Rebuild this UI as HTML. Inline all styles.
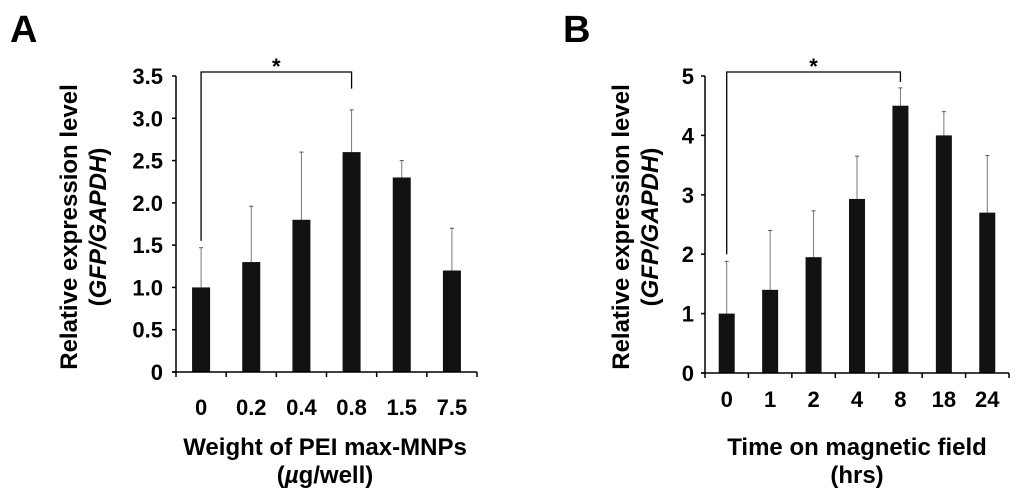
<!DOCTYPE html>
<html><head><meta charset="utf-8"><style>
body{margin:0;background:#fff}
svg{display:block;font-family:"Liberation Sans",Arial,sans-serif;font-weight:bold}
</style></head><body>
<svg id="fig" width="1024" height="498" viewBox="0 0 1024 498" xmlns="http://www.w3.org/2000/svg"></svg>
<script>
const catsA = ["0","0.2","0.4","0.8","1.5","7.5"];
const valsA = [1.0,1.3,1.8,2.6,2.3,1.2];
const errA = [1.47,1.96,2.6,3.1,2.5,1.7];
const ticksA = ["0","0.5","1.0","1.5","2.0","2.5","3.0","3.5"];
const tickValsA = [0,0.5,1,1.5,2,2.5,3,3.5];
const catsB = ["0","1","2","4","8","18","24"];
const valsB = [1.0,1.4,1.95,2.93,4.5,4.0,2.7];
const errB = [1.88,2.4,2.73,3.65,4.8,4.4,3.66];
const ticksB = ["0","1","2","3","4","5"];
const tickValsB = [0,1,2,3,4,5];

const NS="http://www.w3.org/2000/svg";
const svg=document.getElementById('fig');
function mk(tag,attrs,parent,text){const e=document.createElementNS(NS,tag);for(const k in attrs)e.setAttribute(k,attrs[k]);if(text!==undefined)e.textContent=text;(parent||svg).appendChild(e);return e;}

function panel(cfg){
  const g=mk('g',{});
  
  
  const y=v=>cfg.y0-(v/cfg.ymax)*(cfg.y0-cfg.ytop);
  const cw=(cfg.x1-cfg.x0)/cfg.cats.length;
  const cx=i=>cfg.x0+cw*(i+0.5);
  const lab=mk('text',{x:cfg.labX,y:42,'font-size':38},g,cfg.id);
  
  
  cfg.vals.forEach((v,i)=>{
    const eb=mk('line',{x1:cx(i),x2:cx(i),y1:y(v),y2:y(cfg.err[i]),stroke:'#777','stroke-width':1},g);
    
    
    const cap=mk('line',{x1:cx(i)-2,x2:cx(i)+2,y1:y(cfg.err[i]),y2:y(cfg.err[i]),stroke:'#555','stroke-width':1},g);
    
    
    const b=mk('rect',{x:cx(i)-cfg.bw/2,y:y(v),width:cfg.bw,height:cfg.y0-y(v),fill:'#111'},g);
    
    
    const t=mk('text',{x:cx(i),y:cfg.xlabY,'text-anchor':'middle','font-size':22},g,cfg.cats[i]);
    
    
  });
  const ya=mk('line',{x1:cfg.x0,x2:cfg.x0,y1:cfg.ytop,y2:cfg.y0,stroke:'#000','stroke-width':1.5},g);
  
  
  const xa=mk('line',{x1:cfg.x0-4,x2:cfg.x1,y1:cfg.y0,y2:cfg.y0,stroke:'#000','stroke-width':1.5},g);
  
  
  for(let i=0;i<=cfg.cats.length;i++){
    mk('line',{x1:cfg.x0+cw*i,x2:cfg.x0+cw*i,y1:cfg.y0,y2:cfg.y0+5,stroke:'#000','stroke-width':1.5},g);
  }
  cfg.tickVals.forEach((v,i)=>{
    mk('line',{x1:cfg.x0-4,x2:cfg.x0,y1:y(v),y2:y(v),stroke:'#000','stroke-width':1.5},g);
    const t=mk('text',{x:cfg.tickX,y:y(v)+8,'text-anchor':'end','font-size':22},g,cfg.ticks[i]);
    
    
  });
  const L=cx(0),R=cx(cfg.sigIdx);
  const br=mk('polyline',{points:`${L},${y(cfg.brLeft)} ${L},72 ${R},72 ${R},${y(cfg.brRight)}`,fill:'none',stroke:'#000','stroke-width':1.3},g);
  
  
  const st=mk('text',{x:(L+R)/2,y:74,'text-anchor':'middle','font-size':22},g,'*');
  
  
  const xt=mk('text',{x:cfg.xtX,y:455,'text-anchor':'middle','font-size':24},g,cfg.xt1);
  
  
  const xt2=mk('text',{x:cfg.xtX,y:483,'text-anchor':'middle','font-size':24},g);
  xt2.innerHTML=cfg.xt2;
  
  
  const yt=mk('text',{transform:`translate(${cfg.ytX},227) rotate(-90)`,'text-anchor':'middle','font-size':24},g,'Relative expression level');
  
  
  const yt2=mk('text',{transform:`translate(${cfg.ytX+29},227) rotate(-90)`,'text-anchor':'middle','font-size':24},g);
  yt2.innerHTML='(<tspan font-style="italic">GFP/GAPDH</tspan>)';
  
  
}
panel({id:'A',cats:catsA,vals:valsA,err:errA,ticks:ticksA,tickVals:tickValsA,ymax:3.5,
  x0:176,x1:477,y0:372,ytop:76,bw:18,tickX:163,xlabY:415,labX:10,sigIdx:3,brLeft:1.55,brRight:3.35,
  xtX:325,xt1:'Weight of PEI max-MNPs',xt2:'(<tspan font-style="italic">µ</tspan>g/well)',ytX:77});
panel({id:'B',cats:catsB,vals:valsB,err:errB,ticks:ticksB,tickVals:tickValsB,ymax:5,
  x0:705,x1:1009,y0:373,ytop:76,bw:16,tickX:694,xlabY:407,labX:563,sigIdx:4,brLeft:2.0,brRight:4.9,
  xtX:857,xt1:'Time on magnetic field',xt2:'(hrs)',ytX:629});
</script>
</body></html>
